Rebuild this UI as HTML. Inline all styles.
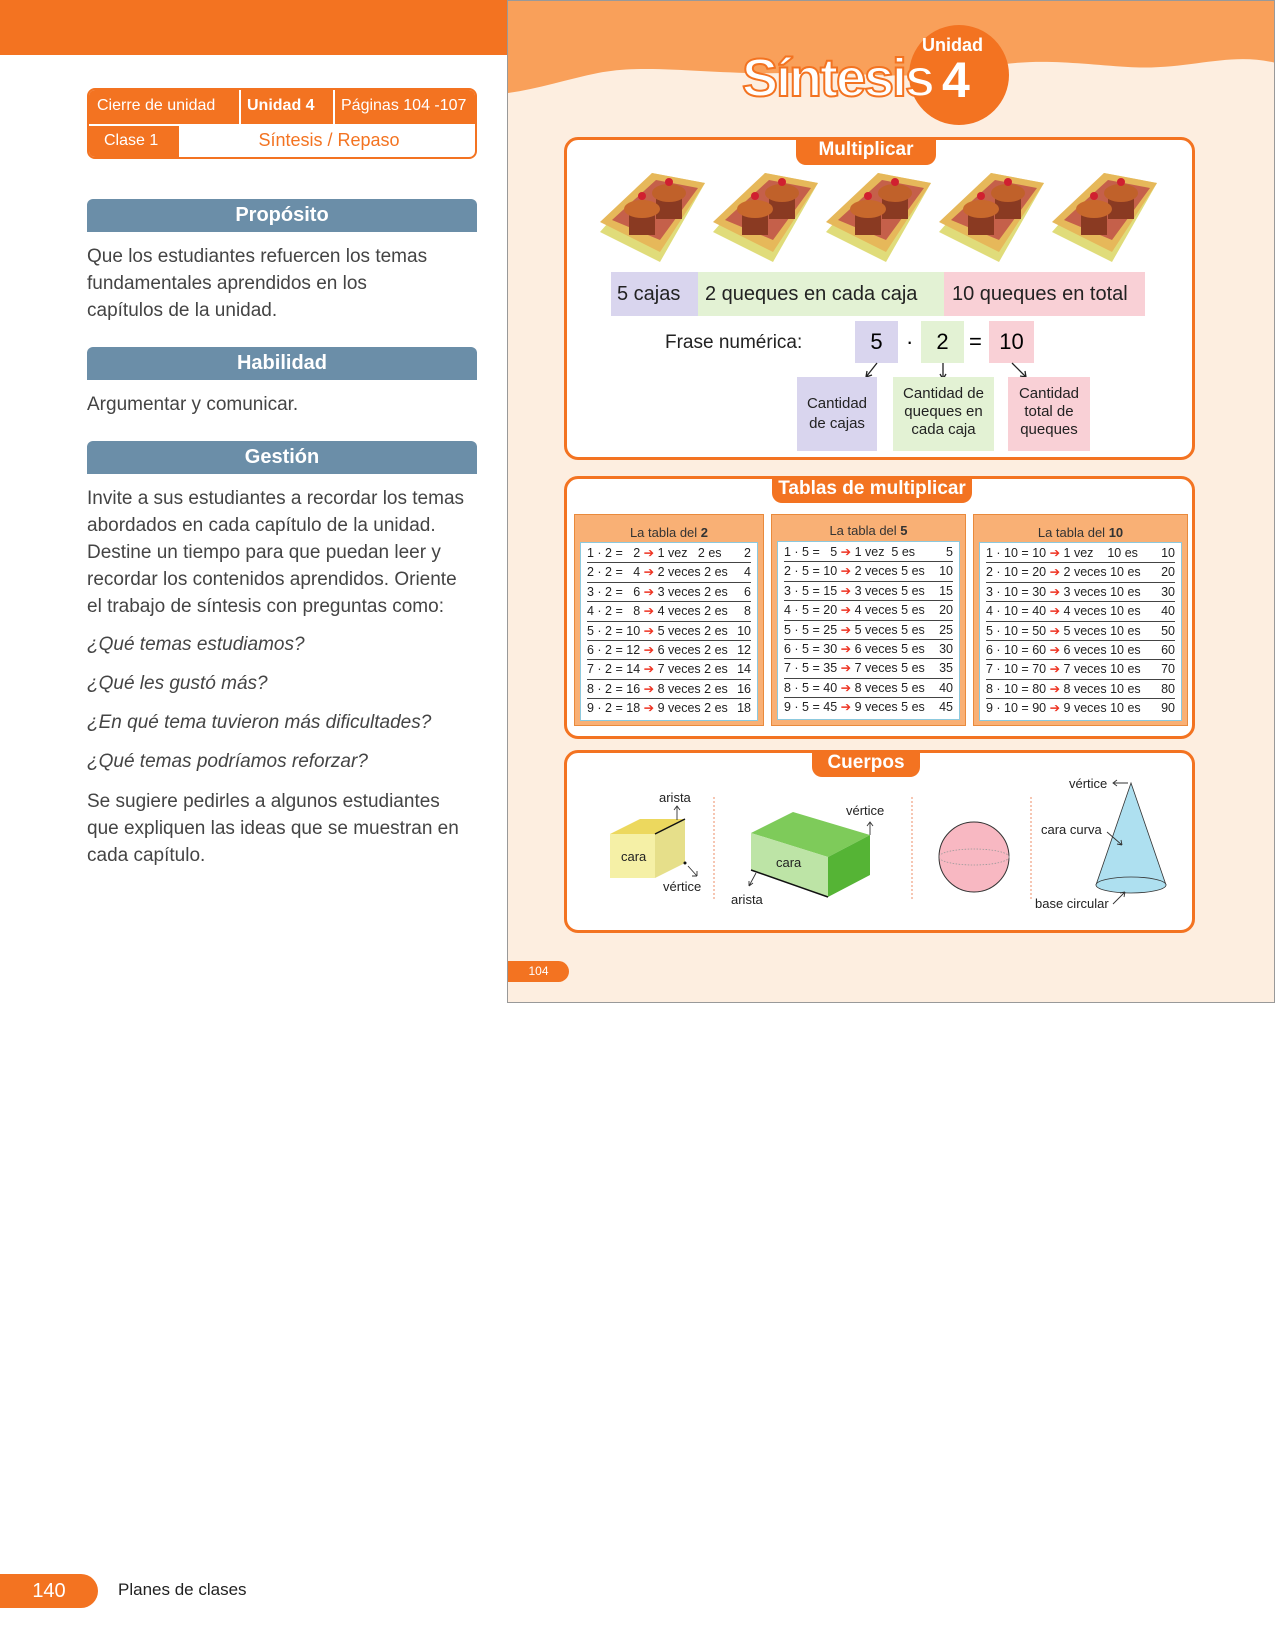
<!DOCTYPE html>
<html><head><meta charset="utf-8"><style>
*{margin:0;padding:0;box-sizing:border-box}
body{width:1275px;height:1650px;position:relative;background:#fff;font-family:"Liberation Sans",sans-serif;overflow:hidden}
.a{position:absolute}
.bar{position:absolute;left:87px;width:390px;height:33px;background:#6b8ea8;color:#fff;font-size:20px;font-weight:bold;text-align:center;line-height:33px;border-radius:6px 6px 0 0}
.t{position:absolute;left:87px;font-size:19px;color:#444;white-space:nowrap}
.i{font-style:italic}
.box{position:absolute;left:564px;width:631px;border:3px solid #f37321;border-radius:14px;background:#fff}
.tab{position:absolute;background:#f37321;color:#fff;font-weight:bold;font-size:19px;text-align:center;border-radius:0 0 10px 10px}
.panel{position:absolute;background:#f9b075;border:1px solid #e98a3c}
.pt{text-align:center;font-size:13px;color:#333;margin-top:10px;height:17px}
.inner{position:absolute;left:5px;right:5px;top:27px;background:#fff;border:1px solid #8cc9de;padding:1px 6px}
.r{height:19.4px;font-size:12.5px;line-height:19px;color:#222;border-bottom:1px solid #444;white-space:nowrap;display:flex;justify-content:space-between}
.r:last-child{border-bottom:none}
.r b{color:#e32;font-weight:normal}
.lbl{position:absolute;font-size:15px;color:#222;text-align:center;line-height:18px}
</style></head><body>
<div class="a" style="left:0;top:0;width:507px;height:55px;background:#f37321"></div>
<div class="a" style="left:87px;top:88px;width:390px;height:71px;border:2px solid #f37321;border-radius:8px;overflow:hidden">
 <div class="a" style="left:0;top:0;width:390px;height:34px;background:#f37321"></div>
 <div class="a" style="left:0;top:34px;width:90px;height:37px;background:#f37321"></div>
 <div class="a" style="left:150px;top:0;width:2px;height:34px;background:#fff"></div>
 <div class="a" style="left:244px;top:0;width:2px;height:34px;background:#fff"></div>
 <div class="a" style="left:0;top:34px;width:390px;height:2px;background:#fff"></div>
 <div class="a" style="left:8px;top:7px;color:#fff;font-size:16px">Cierre de unidad</div>
 <div class="a" style="left:158px;top:7px;color:#fff;font-size:16px;font-weight:bold">Unidad 4</div>
 <div class="a" style="left:252px;top:7px;color:#fff;font-size:16px">Páginas 104 -107</div>
 <div class="a" style="left:15px;top:42px;color:#fff;font-size:16px">Clase 1</div>
 <div class="a" style="left:90px;width:300px;top:40px;color:#f37321;font-size:18px;text-align:center">Síntesis / Repaso</div>
</div>
<div class="bar" style="top:199px">Propósito</div>
<div class="t" style="top:246px">Que los estudiantes refuercen los temas</div>
<div class="t" style="top:273px">fundamentales aprendidos en los</div>
<div class="t" style="top:300px">capítulos de la unidad.</div>
<div class="bar" style="top:347px">Habilidad</div>
<div class="t" style="top:394px">Argumentar y comunicar.</div>
<div class="bar" style="top:441px">Gestión</div>
<div class="t" style="top:488px">Invite a sus estudiantes a recordar los temas</div>
<div class="t" style="top:515px">abordados en cada capítulo de la unidad.</div>
<div class="t" style="top:542px">Destine un tiempo para que puedan leer y</div>
<div class="t" style="top:569px">recordar los contenidos aprendidos. Oriente</div>
<div class="t" style="top:596px">el trabajo de síntesis con preguntas como:</div>
<div class="t i" style="top:634px">¿Qué temas estudiamos?</div>
<div class="t i" style="top:673px">¿Qué les gustó más?</div>
<div class="t i" style="top:712px">¿En qué tema tuvieron más dificultades?</div>
<div class="t i" style="top:751px">¿Qué temas podríamos reforzar?</div>
<div class="t" style="top:791px">Se sugiere pedirles a algunos estudiantes</div>
<div class="t" style="top:818px">que expliquen las ideas que se muestran en</div>
<div class="t" style="top:845px">cada capítulo.</div>
<div class="a" style="left:0;top:1574px;width:98px;height:34px;background:#f37321;border-radius:0 17px 17px 0;color:#fff;font-size:20px;line-height:34px;text-align:center">140</div>
<div class="a" style="left:118px;top:1580px;font-size:17px;color:#222">Planes de clases</div>

<div class="a" style="left:507px;top:0;width:768px;height:1003px;background:#fdeee0;border:1px solid #999;overflow:hidden">
<svg class="a" style="left:0;top:0" width="768" height="130"><path d="M0 0H768V62C720 50 680 70 620 66C560 62 520 55 460 70C400 80 340 70 280 72C200 74 140 62 90 72C60 78 30 88 0 92Z" fill="#f9a05a"/>
<circle cx="451" cy="74" r="50" fill="#f37321"/></svg>
<div class="a" style="left:234px;top:46px;font-size:54px;font-weight:bold;color:#fff;letter-spacing:-2px;-webkit-text-stroke:2px #f37321">Síntesis</div>
<div class="a" style="left:434px;top:50px;font-size:50px;font-weight:bold;color:#fff">4</div>
<div class="a" style="left:414px;top:34px;font-size:18px;font-weight:bold;color:#fff">Unidad</div>
<div class="a" style="left:0;top:960px;width:61px;height:21px;background:#f37321;border-radius:0 11px 11px 0;color:#fff;font-size:12px;line-height:21px;text-align:center">104</div>
</div>

<div class="box" style="top:137px;height:323px"></div>
<div class="tab" style="left:796px;top:137px;width:140px;height:28px;line-height:26px">Multiplicar</div>
<svg class="a" style="left:0;top:0" width="1275" height="300">
<defs><g id="cb">
<polygon points="600,232 652,173 705,183 660,262" fill="#e0dc7a"/>
<polygon points="600,222 652,173 705,183 660,252" fill="#e6b85a"/>
<polygon points="612,220 656,180 698,188 660,240" fill="#c5604a"/>
<rect x="656" y="195" width="26" height="24" fill="#8a3a22"/>
<ellipse cx="669" cy="193" rx="17" ry="9" fill="#c0612a"/><circle cx="669" cy="182" r="4" fill="#d02030"/>
<rect x="629" y="211" width="26" height="24" fill="#8a3a22"/>
<ellipse cx="642" cy="209" rx="18" ry="9" fill="#c8682c"/><circle cx="642" cy="196" r="4" fill="#d02030"/>
</g></defs>
<use href="#cb"/><use href="#cb" x="113"/><use href="#cb" x="226"/><use href="#cb" x="339"/><use href="#cb" x="452"/>
</svg>
<div class="a" style="left:611px;top:272px;width:87px;height:44px;background:#d9d5ee"></div>
<div class="a" style="left:698px;top:272px;width:246px;height:44px;background:#e3f2d4"></div>
<div class="a" style="left:944px;top:272px;width:201px;height:44px;background:#f9d0d6"></div>
<div class="a" style="left:617px;top:283px;font-size:20px;color:#222">5 cajas</div>
<div class="a" style="left:705px;top:283px;font-size:20px;color:#222">2 queques en cada caja</div>
<div class="a" style="left:952px;top:283px;font-size:20px;color:#222">10 queques en total</div>
<div class="a" style="left:665px;top:332px;font-size:19px;color:#222">Frase numérica:</div>
<div class="a" style="left:855px;top:321px;width:43px;height:42px;background:#d9d5ee;font-size:22px;text-align:center;line-height:42px">5</div>
<div class="a" style="left:906px;top:321px;font-size:22px;line-height:42px">·</div>
<div class="a" style="left:921px;top:321px;width:43px;height:42px;background:#e3f2d4;font-size:22px;text-align:center;line-height:42px">2</div>
<div class="a" style="left:969px;top:321px;font-size:22px;line-height:42px">=</div>
<div class="a" style="left:989px;top:321px;width:45px;height:42px;background:#f9d0d6;font-size:22px;text-align:center;line-height:42px">10</div>
<svg class="a" style="left:0;top:0" width="1275" height="400"><g stroke="#222" stroke-width="1.3" fill="none">
<path d="M877 363L866 377M866 377l1-6M866 377l6-2"/><path d="M943 363V379M943 379l-3-5M943 379l3-5"/><path d="M1012 363L1026 377M1026 377l-6-1M1026 377l-1-6"/></g></svg>
<div class="a" style="left:797px;top:377px;width:80px;height:74px;background:#d9d5ee"></div>
<div class="a" style="left:893px;top:377px;width:101px;height:74px;background:#e3f2d4"></div>
<div class="a" style="left:1008px;top:377px;width:82px;height:74px;background:#f9d0d6"></div>
<div class="lbl" style="left:797px;top:394px;width:80px;font-size:15px;line-height:20px">Cantidad<br>de cajas</div>
<div class="lbl" style="left:893px;top:385px;width:101px;font-size:15px">Cantidad de<br>queques en<br>cada caja</div>
<div class="lbl" style="left:1008px;top:385px;width:82px;font-size:15px">Cantidad<br>total de<br>queques</div>

<div class="box" style="top:476px;height:263px"></div>
<div class="tab" style="left:772px;top:476px;width:200px;height:27px;line-height:25px">Tablas de multiplicar</div>
<div class="panel" style="left:574px;top:514px;width:190px;height:212px"><div class="pt">La tabla del <b>2</b></div><div class="inner">
<div class="r"><span>1 · 2 = &nbsp;&nbsp;2 <b>➔</b> 1 vez &nbsp;&nbsp;2 es</span><span>2</span></div>
<div class="r"><span>2 · 2 = &nbsp;&nbsp;4 <b>➔</b> 2 veces 2 es</span><span>4</span></div>
<div class="r"><span>3 · 2 = &nbsp;&nbsp;6 <b>➔</b> 3 veces 2 es</span><span>6</span></div>
<div class="r"><span>4 · 2 = &nbsp;&nbsp;8 <b>➔</b> 4 veces 2 es</span><span>8</span></div>
<div class="r"><span>5 · 2 = 10 <b>➔</b> 5 veces 2 es</span><span>10</span></div>
<div class="r"><span>6 · 2 = 12 <b>➔</b> 6 veces 2 es</span><span>12</span></div>
<div class="r"><span>7 · 2 = 14 <b>➔</b> 7 veces 2 es</span><span>14</span></div>
<div class="r"><span>8 · 2 = 16 <b>➔</b> 8 veces 2 es</span><span>16</span></div>
<div class="r"><span>9 · 2 = 18 <b>➔</b> 9 veces 2 es</span><span>18</span></div></div></div>
<div class="panel" style="left:771px;top:514px;width:195px;height:212px"><div class="pt" style="margin-top:8px">La tabla del <b>5</b></div><div class="inner" style="top:26px">
<div class="r"><span>1 · 5 = &nbsp;&nbsp;5 <b>➔</b> 1 vez &nbsp;5 es</span><span>5</span></div>
<div class="r"><span>2 · 5 = 10 <b>➔</b> 2 veces 5 es</span><span>10</span></div>
<div class="r"><span>3 · 5 = 15 <b>➔</b> 3 veces 5 es</span><span>15</span></div>
<div class="r"><span>4 · 5 = 20 <b>➔</b> 4 veces 5 es</span><span>20</span></div>
<div class="r"><span>5 · 5 = 25 <b>➔</b> 5 veces 5 es</span><span>25</span></div>
<div class="r"><span>6 · 5 = 30 <b>➔</b> 6 veces 5 es</span><span>30</span></div>
<div class="r"><span>7 · 5 = 35 <b>➔</b> 7 veces 5 es</span><span>35</span></div>
<div class="r"><span>8 · 5 = 40 <b>➔</b> 8 veces 5 es</span><span>40</span></div>
<div class="r"><span>9 · 5 = 45 <b>➔</b> 9 veces 5 es</span><span>45</span></div></div></div>
<div class="panel" style="left:973px;top:514px;width:215px;height:212px"><div class="pt">La tabla del <b>10</b></div><div class="inner">
<div class="r"><span>1 · 10 = 10 <b>➔</b> 1 vez &nbsp;&nbsp;&nbsp;10 es</span><span>10</span></div>
<div class="r"><span>2 · 10 = 20 <b>➔</b> 2 veces 10 es</span><span>20</span></div>
<div class="r"><span>3 · 10 = 30 <b>➔</b> 3 veces 10 es</span><span>30</span></div>
<div class="r"><span>4 · 10 = 40 <b>➔</b> 4 veces 10 es</span><span>40</span></div>
<div class="r"><span>5 · 10 = 50 <b>➔</b> 5 veces 10 es</span><span>50</span></div>
<div class="r"><span>6 · 10 = 60 <b>➔</b> 6 veces 10 es</span><span>60</span></div>
<div class="r"><span>7 · 10 = 70 <b>➔</b> 7 veces 10 es</span><span>70</span></div>
<div class="r"><span>8 · 10 = 80 <b>➔</b> 8 veces 10 es</span><span>80</span></div>
<div class="r"><span>9 · 10 = 90 <b>➔</b> 9 veces 10 es</span><span>90</span></div></div></div>

<div class="box" style="top:750px;height:183px"></div>
<div class="tab" style="left:812px;top:750px;width:108px;height:27px;line-height:25px">Cuerpos</div>
<svg class="a" style="left:0;top:0" width="1275" height="1000" font-family="Liberation Sans" font-size="13" fill="#222">
<g stroke="#f0a080" stroke-width="1.2" stroke-dasharray="2,2"><line x1="714" y1="797" x2="714" y2="900"/><line x1="912" y1="797" x2="912" y2="900"/><line x1="1031" y1="797" x2="1031" y2="900"/></g>
<polygon points="610,834 640,819 685,819 655,834" fill="#ecd85e"/>
<polygon points="655,834 685,819 685,863 655,878" fill="#e6df8a"/>
<rect x="610" y="834" width="45" height="44" fill="#f5f0a6"/>
<line x1="655" y1="834" x2="685" y2="819" stroke="#111" stroke-width="1.5"/>
<text x="621" y="861">cara</text><text x="659" y="802">arista</text><text x="663" y="891">vértice</text>
<g stroke="#333" fill="none" stroke-width="0.9"><path d="M677 820V806M674 810l3-4 3 4"/><path d="M688 866l9 10M697 876v-5M697 876h-5"/>
<path d="M756 873l-7 13M749 886l0-5M749 886l4-3"/><path d="M870 835V822M867 826l3-4 3 4"/></g>
<circle cx="685" cy="863" r="1.5" fill="#111"/>
<polygon points="751,833 793,812 870,835 828,857" fill="#7ecb5a"/>
<polygon points="828,857 870,835 870,875 828,897" fill="#55b435"/>
<polygon points="751,833 828,857 828,897 751,870" fill="#bde4a6"/>
<line x1="751" y1="870" x2="828" y2="897" stroke="#111" stroke-width="1.5"/>
<text x="776" y="867">cara</text><text x="731" y="904">arista</text><text x="846" y="815">vértice</text>
<circle cx="974" cy="857" r="35" fill="#f8b8c2" stroke="#333" stroke-width="1"/>
<ellipse cx="974" cy="857" rx="35" ry="8" fill="none" stroke="#999" stroke-width="0.8" stroke-dasharray="1.5,1.5"/>
<polygon points="1131,783 1096,885 1166,885" fill="#aee0f0" stroke="#333" stroke-width="0.8"/>
<ellipse cx="1131" cy="885" rx="35" ry="8" fill="#aee0f0" stroke="#333" stroke-width="0.8"/>
<text x="1069" y="788">vértice</text><text x="1041" y="834">cara curva</text><text x="1035" y="908">base circular</text>
<g stroke="#333" fill="none" stroke-width="0.9"><path d="M1128 783h-15M1117 780l-4 3 4 3"/><path d="M1107 832l15 13M1122 845l-5 -1M1122 845l-1-5"/><path d="M1113 904l12-12M1125 892l-5 1M1125 892l-1 5"/></g>
</svg>
</body></html>
